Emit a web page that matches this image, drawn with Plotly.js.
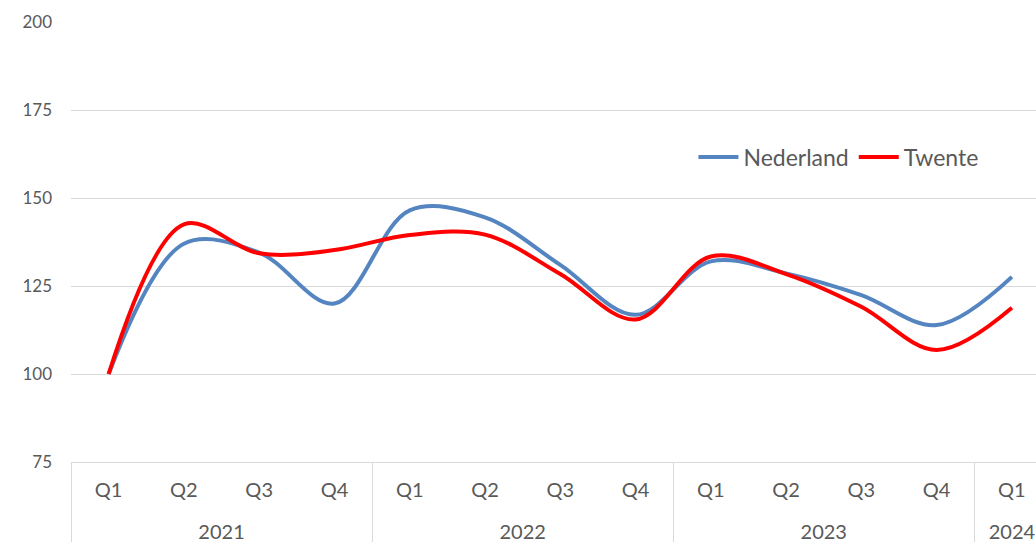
<!DOCTYPE html>
<html>
<head>
<meta charset="utf-8">
<script src="https://cdn.plot.ly/plotly-3.0.1.min.js"></script>
<style>html,body{margin:0;padding:0;background:#fff;}#chart{width:1036px;height:542px;}</style>
</head>
<body>
<div id="chart"></div>
<script>
const years = ["2021","2021","2021","2021","2022","2022","2022","2022","2023","2023","2023","2023","2024"];
const quarters = ["Q1","Q2","Q3","Q4","Q1","Q2","Q3","Q4","Q1","Q2","Q3","Q4","Q1"];
const nederland = [100, 137, 134.5, 120, 146.5, 144.5, 131, 116.8, 132, 128.6, 122.4, 113.9, 127.6];
const twente = [100, 142.5, 134.3, 135.2, 139.5, 139.6, 128.4, 115.5, 133.4, 128.4, 119.1, 106.8, 118.8];
const yTicks = [75, 100, 125, 150, 175, 200];

const fontFam = "Lato, 'Open Sans', sans-serif";
// leading line break pushes the year row lower, as in the reference
const yearLabels = years.map(y => "<br>" + y);
const traces = [
  {x: [yearLabels, quarters], y: nederland, name: "Nederland", type: "scatter", mode: "lines",
   line: {color: "#5585C0", width: 4, shape: "spline", smoothing: 1}},
  {x: [yearLabels, quarters], y: twente, name: "Twente", type: "scatter", mode: "lines",
   line: {color: "#FF0000", width: 4, shape: "spline", smoothing: 1}}
];
const layout = {
  width: 1036, height: 542,
  margin: {l: 71, r: 0, t: 22, b: 80},
  paper_bgcolor: "#fff", plot_bgcolor: "#fff",
  font: {family: fontFam, color: "#595959"},
  showlegend: true,
  legend: {orientation: "h", x: 0.645, y: 0.693, xanchor: "left", yanchor: "middle",
           itemwidth: 40,
           font: {size: 23, color: "#595959"}, bgcolor: "rgba(0,0,0,0)"},
  xaxis: {type: "multicategory", range: [-0.5, 12.32], showgrid: false,
          showline: true, linecolor: "#d9d9d9", linewidth: 1,
          showdividers: true, dividercolor: "#d9d9d9", dividerwidth: 1,
          ticklabelstandoff: 10,
          tickfont: {size: 20, color: "#595959"}, ticks: "", fixedrange: true},
  yaxis: {range: [75, 200], tickvals: yTicks, ticktext: yTicks.map(String),
          showgrid: true, gridcolor: "#d9d9d9", gridwidth: 1, zeroline: false,
          showline: false, ticks: "", ticklabelstandoff: 18,
          tickfont: {size: 17, color: "#595959"}, fixedrange: true}
};
Plotly.newPlot("chart", traces, layout, {staticPlot: true});
</script>
</body>
</html>
